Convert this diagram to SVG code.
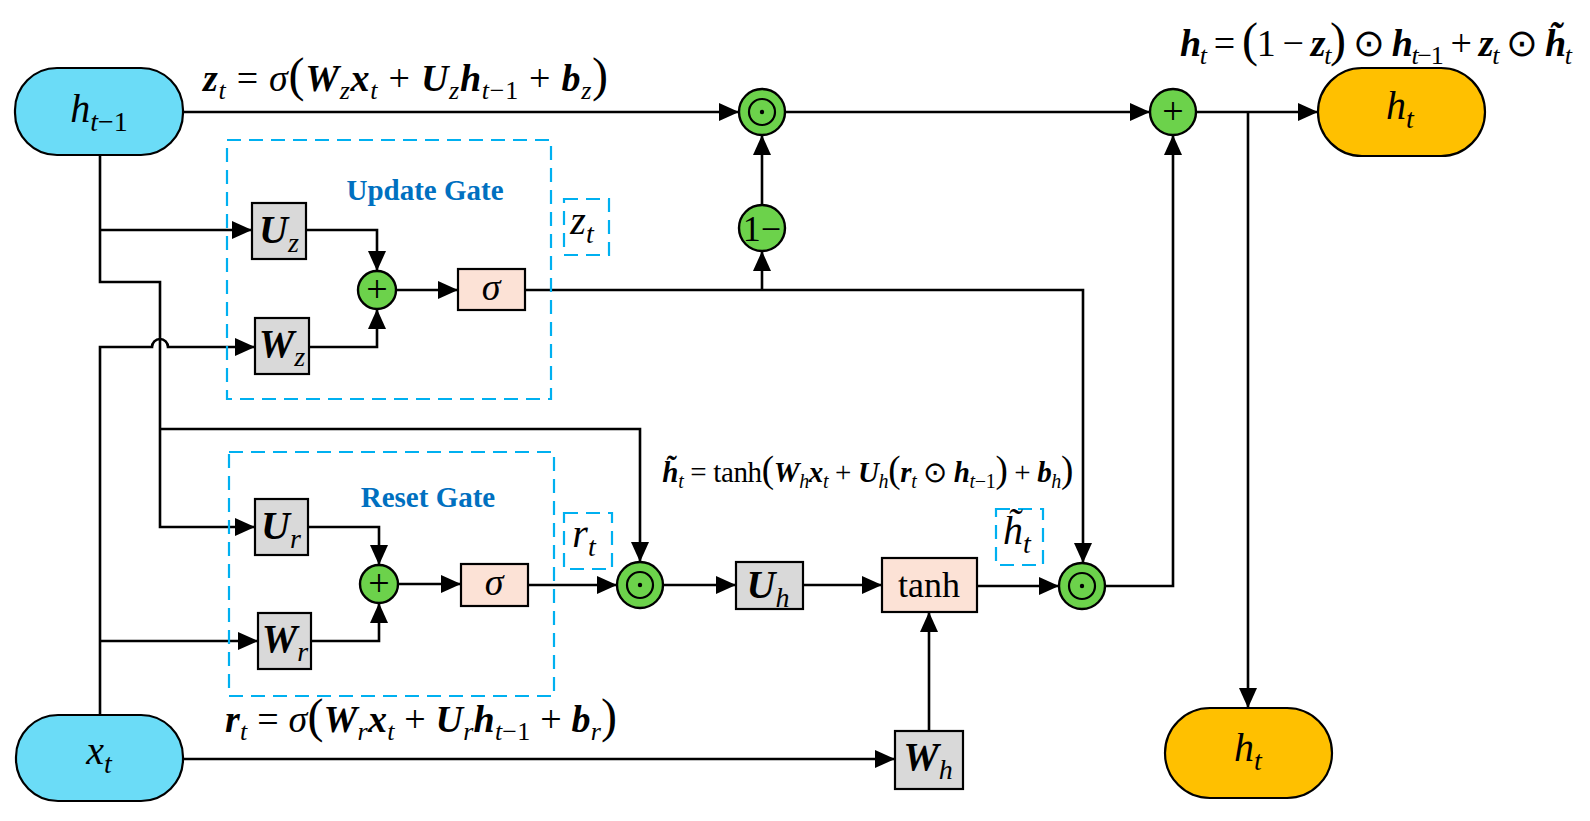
<svg xmlns="http://www.w3.org/2000/svg" width="1590" height="821" viewBox="0 0 1590 821">
<style>
text{font-family:"Liberation Serif","Times New Roman",serif;fill:#000}
.bi{font-weight:bold;font-style:italic}
.i{font-style:italic}
.s{font-style:italic;font-weight:normal;font-size:26px}
.su{font-style:normal;font-weight:normal;font-size:26px}
.p{font-style:normal;font-weight:normal;font-size:48px}
.f{font-size:38px}
.fs{font-size:29px}
.fs .s,.fs .su{font-size:20px}
.fs .p{font-size:37px}
.lab{font-size:40px;text-anchor:middle}
.lab .s,.lab .su{font-size:28px}
.sym{font-size:38px;text-anchor:middle}
.gate{font-size:29px;font-weight:bold;fill:#0070C0;text-anchor:middle}
.wire{fill:none;stroke:#000;stroke-width:2.6}
.arr{marker-end:url(#ah)}
.blue{fill:#6BDCF7;stroke:#000;stroke-width:2.2}
.gold{fill:#FFC000;stroke:#000;stroke-width:2.2}
.gray{fill:#D9D9D9;stroke:#000;stroke-width:2.2}
.peach{fill:#FCE2D6;stroke:#000;stroke-width:2.2}
.green{fill:#6CD24B;stroke:#000;stroke-width:2.4}
.ring{fill:none;stroke:#000;stroke-width:2.2}
.dash{fill:none;stroke:#00B0F0;stroke-width:2.2;stroke-dasharray:14 8}
</style>
<defs>
<marker id="ah" viewBox="0 0 20 18" refX="20" refY="9" markerWidth="20" markerHeight="18" markerUnits="userSpaceOnUse" orient="auto"><path d="M0,0 L20,9 L0,18 z" fill="#000"/></marker>
</defs>

<g id="connectors">
<path class="wire arr" d="M183,112 H739"/>
<path class="wire arr" d="M785,112 H1150"/>
<path class="wire arr" d="M1196,112 H1318"/>
<path class="wire arr" d="M1248,112 V708"/>
<path class="wire arr" d="M100,155 V282 H160 V527 H255"/>
<path class="wire arr" d="M100,230 H252"/>
<path class="wire arr" d="M160,429 H640 V562"/>
<path class="wire arr" d="M100,715 V347 H152 A8,8 0 0 1 168,347 H255"/>
<path class="wire arr" d="M100,641 H258"/>
<path class="wire arr" d="M183,759 H895"/>
<path class="wire arr" d="M306,230 H377 V271"/>
<path class="wire arr" d="M309,347 H377 V309"/>
<path class="wire arr" d="M396,290 H458"/>
<path class="wire arr" d="M525,290 H1083 V563"/>
<path class="wire arr" d="M762,290 V251"/>
<path class="wire arr" d="M762,205 V135"/>
<path class="wire arr" d="M308,527 H379 V565"/>
<path class="wire arr" d="M311,641 H379 V603"/>
<path class="wire arr" d="M398,584 H461"/>
<path class="wire arr" d="M528,585 H617"/>
<path class="wire arr" d="M663,585 H736"/>
<path class="wire arr" d="M803,585 H882"/>
<path class="wire arr" d="M977,586 H1059"/>
<path class="wire arr" d="M929,731 V612"/>
<path class="wire arr" d="M1105,586 H1173 V135"/>
</g>

<g id="update-gate">
<rect class="dash" x="227" y="140" width="324" height="259"/>
<text class="gate" x="425" y="200">Update Gate</text>
</g>
<g id="reset-gate">
<rect class="dash" x="229" y="452" width="325" height="244"/>
<text class="gate" x="428" y="507">Reset Gate</text>
</g>

<g id="node-h-prev">
<rect class="blue" x="15" y="68" width="168" height="87" rx="42" ry="42"/>
<text class="lab i" x="99" y="122">h<tspan class="s" dy="9">t</tspan><tspan class="su">−1</tspan></text>
</g>
<g id="node-x">
<rect class="blue" x="16" y="715" width="167" height="86" rx="42" ry="42"/>
<text class="lab i" x="99" y="764">x<tspan class="s" dy="9">t</tspan></text>
</g>
<g id="node-h-out">
<rect class="gold" x="1318" y="68" width="167" height="88" rx="44" ry="44"/>
<text class="lab i" x="1400" y="119">h<tspan class="s" dy="9">t</tspan></text>
</g>
<g id="node-h-out2">
<rect class="gold" x="1165" y="708" width="167" height="90" rx="45" ry="45"/>
<text class="lab i" x="1248" y="761">h<tspan class="s" dy="9">t</tspan></text>
</g>

<g id="node-Uz">
<rect class="gray" x="252" y="203" width="54" height="56"/>
<text class="lab" x="279" y="243"><tspan class="bi">U</tspan><tspan class="s" dy="9">z</tspan></text>
</g>
<g id="node-Wz">
<rect class="gray" x="255" y="318" width="54" height="56"/>
<text class="lab" x="282" y="357"><tspan class="bi">W</tspan><tspan class="s" dy="9">z</tspan></text>
</g>
<g id="node-plus-z">
<circle class="green" cx="377" cy="290" r="19"/>
<text class="sym" x="377" y="302">+</text>
</g>
<g id="node-sigma-z">
<rect class="peach" x="458" y="269" width="67" height="41"/>
<text class="sym i" x="491" y="300">σ</text>
</g>
<g id="label-zt">
<rect class="dash" x="564" y="199" width="45" height="56"/>
<text class="lab i" x="582" y="234" font-size="38">z<tspan class="s" dy="9">t</tspan></text>
</g>

<g id="node-Ur">
<rect class="gray" x="255" y="499" width="53" height="56"/>
<text class="lab" x="281" y="539"><tspan class="bi">U</tspan><tspan class="s" dy="9">r</tspan></text>
</g>
<g id="node-Wr">
<rect class="gray" x="258" y="613" width="53" height="56"/>
<text class="lab" x="285" y="652"><tspan class="bi">W</tspan><tspan class="s" dy="9">r</tspan></text>
</g>
<g id="node-plus-r">
<circle class="green" cx="379" cy="584" r="19"/>
<text class="sym" x="379" y="596">+</text>
</g>
<g id="node-sigma-r">
<rect class="peach" x="461" y="564" width="67" height="42"/>
<text class="sym i" x="494" y="595">σ</text>
</g>
<g id="label-rt">
<rect class="dash" x="564" y="513" width="48" height="56"/>
<text class="lab i" x="584" y="547" font-size="38">r<tspan class="s" dy="9">t</tspan></text>
</g>

<g id="node-mul-r">
<circle class="green" cx="640" cy="585" r="23"/>
<circle class="ring" cx="640" cy="585" r="13"/>
<circle cx="640" cy="585" r="2.2" fill="#000"/>
</g>
<g id="node-Uh">
<rect class="gray" x="736" y="562" width="67" height="47"/>
<text class="lab" x="768" y="598"><tspan class="bi">U</tspan><tspan class="s" dy="9">h</tspan></text>
</g>
<g id="node-tanh">
<rect class="peach" x="882" y="558" width="95" height="54"/>
<text x="929" y="597" font-size="36" text-anchor="middle">tanh</text>
</g>
<g id="node-Wh">
<rect class="gray" x="895" y="731" width="68" height="58"/>
<text class="lab" x="928" y="770"><tspan class="bi">W</tspan><tspan class="s" dy="9">h</tspan></text>
</g>
<g id="label-ht">
<rect class="dash" x="996" y="509" width="47" height="56"/>
<text class="lab i" x="1017" y="544" font-size="38">h̃<tspan class="s" dy="9">t</tspan></text>
</g>
<g id="node-mul-h">
<circle class="green" cx="1082" cy="586" r="23"/>
<circle class="ring" cx="1082" cy="586" r="13"/>
<circle cx="1082" cy="586" r="2.2" fill="#000"/>
</g>

<g id="node-mul-top">
<circle class="green" cx="762" cy="112" r="23"/>
<circle class="ring" cx="762" cy="112" r="13"/>
<circle cx="762" cy="112" r="2.2" fill="#000"/>
</g>
<g id="node-one-minus">
<circle class="green" cx="762" cy="228" r="23"/>
<text x="762" y="241" font-size="36" text-anchor="middle">1−</text>
</g>
<g id="node-plus-top">
<circle class="green" cx="1173" cy="112" r="23"/>
<text class="sym" x="1173" y="124">+</text>
</g>

<g id="formulas">
<text class="f" x="203" y="91" textLength="405" lengthAdjust="spacing"><tspan class="bi">z</tspan><tspan class="s" dy="8">t</tspan><tspan dy="-8"> = </tspan><tspan class="i">σ</tspan><tspan class="p">(</tspan><tspan class="bi">W</tspan><tspan class="s" dy="8">z</tspan><tspan class="bi" dy="-8">x</tspan><tspan class="s" dy="8">t</tspan><tspan dy="-8"> + </tspan><tspan class="bi">U</tspan><tspan class="s" dy="8">z</tspan><tspan class="bi" dy="-8">h</tspan><tspan class="s" dy="8">t</tspan><tspan class="su">−1</tspan><tspan dy="-8"> + </tspan><tspan class="bi">b</tspan><tspan class="s" dy="8">z</tspan><tspan class="p" dy="-8">)</tspan></text>
<text class="f" x="1180" y="56" textLength="392" lengthAdjust="spacing"><tspan class="bi">h</tspan><tspan class="s" dy="8">t</tspan><tspan dy="-8"> = </tspan><tspan class="p">(</tspan><tspan>1 − </tspan><tspan class="bi">z</tspan><tspan class="s" dy="8">t</tspan><tspan class="p" dy="-8">)</tspan><tspan> ⊙ </tspan><tspan class="bi">h</tspan><tspan class="s" dy="8">t</tspan><tspan class="su">−1</tspan><tspan dy="-8"> + </tspan><tspan class="bi">z</tspan><tspan class="s" dy="8">t</tspan><tspan dy="-8"> ⊙ </tspan><tspan class="bi">h̃</tspan><tspan class="s" dy="8">t</tspan></text>
<text class="fs" x="662" y="482" textLength="411" lengthAdjust="spacing"><tspan class="bi">h̃</tspan><tspan class="s" dy="6">t</tspan><tspan dy="-6"> = tanh</tspan><tspan class="p">(</tspan><tspan class="bi">W</tspan><tspan class="s" dy="6">h</tspan><tspan class="bi" dy="-6">x</tspan><tspan class="s" dy="6">t</tspan><tspan dy="-6"> + </tspan><tspan class="bi">U</tspan><tspan class="s" dy="6">h</tspan><tspan class="p" dy="-6">(</tspan><tspan class="bi">r</tspan><tspan class="s" dy="6">t</tspan><tspan dy="-6"> ⊙ </tspan><tspan class="bi">h</tspan><tspan class="s" dy="6">t</tspan><tspan class="su">−1</tspan><tspan class="p" dy="-6">)</tspan><tspan> + </tspan><tspan class="bi">b</tspan><tspan class="s" dy="6">h</tspan><tspan class="p" dy="-6">)</tspan></text>
<text class="f" x="225" y="732" textLength="392" lengthAdjust="spacing"><tspan class="bi">r</tspan><tspan class="s" dy="8">t</tspan><tspan dy="-8"> = </tspan><tspan class="i">σ</tspan><tspan class="p">(</tspan><tspan class="bi">W</tspan><tspan class="s" dy="8">r</tspan><tspan class="bi" dy="-8">x</tspan><tspan class="s" dy="8">t</tspan><tspan dy="-8"> + </tspan><tspan class="bi">U</tspan><tspan class="s" dy="8">r</tspan><tspan class="bi" dy="-8">h</tspan><tspan class="s" dy="8">t</tspan><tspan class="su">−1</tspan><tspan dy="-8"> + </tspan><tspan class="bi">b</tspan><tspan class="s" dy="8">r</tspan><tspan class="p" dy="-8">)</tspan></text>
</g>
</svg>
